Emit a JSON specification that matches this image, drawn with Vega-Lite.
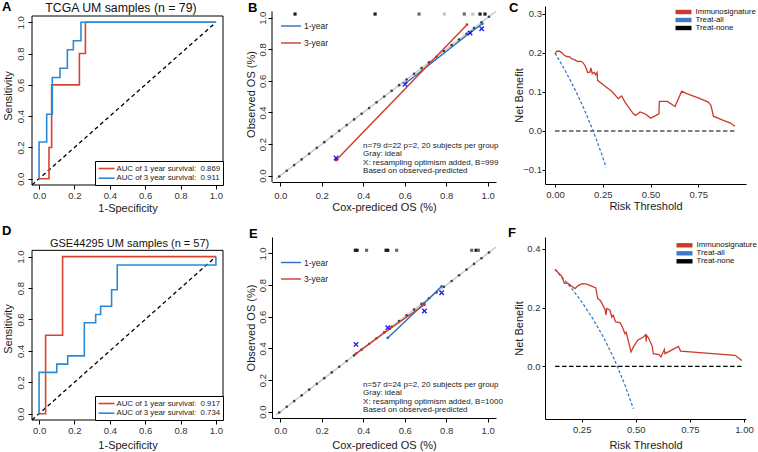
{
  "$schema": "https://vega.github.io/schema/vega-lite/v6.json",
  "padding": {"left": 2, "top": 1, "right": 0, "bottom": 0},
  "autosize": {"type": "pad"},
  "config": {
    "font": "Liberation Sans",
    "view": {"stroke": null},
    "axis": {"grid": false, "domainColor": "#000", "tickColor": "#000", "labelColor": "#333", "titleColor": "#1a1a1a", "labelFontSize": 9.5, "titleFontSize": 11, "titleFontWeight": "normal", "labelFont": "Liberation Sans", "titleFont": "Liberation Sans", "labelOverlap": false, "labelFlush": false, "tickSize": 4, "domainWidth": 1, "tickWidth": 1},
    "title": {"fontSize": 13, "fontWeight": "bold", "anchor": "start", "frame": "group", "color": "#000", "font": "Liberation Sans"},
    "legend": {"labelFont": "Liberation Sans", "titleFont": "Liberation Sans"}
  },
  "datasets": {
    "ideal": [{"x": -0.005, "y": -0.005}, {"x": 0.031, "y": 0.031}, {"x": 0.067, "y": 0.067}, {"x": 0.103, "y": 0.103}, {"x": 0.139, "y": 0.139}, {"x": 0.176, "y": 0.176}, {"x": 0.212, "y": 0.212}, {"x": 0.248, "y": 0.248}, {"x": 0.284, "y": 0.284}, {"x": 0.32, "y": 0.32}, {"x": 0.356, "y": 0.356}, {"x": 0.392, "y": 0.392}, {"x": 0.428, "y": 0.428}, {"x": 0.464, "y": 0.464}, {"x": 0.501, "y": 0.501}, {"x": 0.537, "y": 0.537}, {"x": 0.573, "y": 0.573}, {"x": 0.609, "y": 0.609}, {"x": 0.645, "y": 0.645}, {"x": 0.681, "y": 0.681}, {"x": 0.717, "y": 0.717}, {"x": 0.753, "y": 0.753}, {"x": 0.789, "y": 0.789}, {"x": 0.826, "y": 0.826}, {"x": 0.862, "y": 0.862}, {"x": 0.898, "y": 0.898}, {"x": 0.934, "y": 0.934}, {"x": 0.97, "y": 0.97}, {"x": 1.006, "y": 1.006}]
  },
  "columns": 3,
  "spacing": {"row": 52, "column": 49},
  "bounds": "flush",
  "align": "each",
  "resolve": {"scale": {"x": "independent", "y": "independent", "color": "independent"}, "legend": {"color": "independent"}, "axis": {"x": "independent", "y": "independent"}},
  "concat": [
    {
      "width": 191, "height": 179,
      "title": {"text": "A", "dx": -30, "offset": -12},
      "layer": [
        {
          "data": {"values": [{}]},
          "mark": {"type": "rect", "fillOpacity": 0, "stroke": "#000", "strokeWidth": 1},
          "encoding": {
            "x": {"datum": -0.04, "type": "quantitative", "scale": {"domain": [-0.04, 1.04], "nice": false, "zero": false}, "axis": {"values": [0, 0.2, 0.4, 0.6, 0.8, 1], "format": ".1f", "title": "1-Specificity", "domain": false, "labelPadding": 1.5, "titlePadding": 2}},
            "x2": {"datum": 1.04},
            "y": {"datum": -0.04, "type": "quantitative", "scale": {"domain": [-0.04, 1.104], "nice": false, "zero": false}, "axis": {"values": [0, 0.2, 0.4, 0.6, 0.8, 1], "format": ".1f", "title": "Sensitivity", "domain": false, "labelAngle": 270, "labelPadding": 2.5, "titlePadding": 2.5}},
            "y2": {"datum": 1.04}
          }
        },
        {
          "data": {"values": [{}]},
          "mark": {"type": "rule", "color": "#000", "strokeWidth": 1.3, "strokeDash": [4, 3]},
          "encoding": {
            "x": {"datum": -0.04, "type": "quantitative", "scale": {"domain": [-0.04, 1.04], "nice": false, "zero": false}, "axis": {"values": [0, 0.2, 0.4, 0.6, 0.8, 1], "format": ".1f", "title": "1-Specificity", "domain": false, "labelPadding": 1.5, "titlePadding": 2}},
            "x2": {"datum": 1.0},
            "y": {"datum": -0.04, "type": "quantitative", "scale": {"domain": [-0.04, 1.104], "nice": false, "zero": false}, "axis": {"values": [0, 0.2, 0.4, 0.6, 0.8, 1], "format": ".1f", "title": "Sensitivity", "domain": false, "labelAngle": 270, "labelPadding": 2.5, "titlePadding": 2.5}},
            "y2": {"datum": 1.0}
          }
        },
        {
          "data": {"values": [
            {"curve": "AUC of 1 year survival:\u00a0 0.869", "x": 0, "y": 0},
            {"curve": "AUC of 1 year survival:\u00a0 0.869", "x": 0.056, "y": 0},
            {"curve": "AUC of 1 year survival:\u00a0 0.869", "x": 0.056, "y": 0.2},
            {"curve": "AUC of 1 year survival:\u00a0 0.869", "x": 0.071, "y": 0.2},
            {"curve": "AUC of 1 year survival:\u00a0 0.869", "x": 0.071, "y": 0.6},
            {"curve": "AUC of 1 year survival:\u00a0 0.869", "x": 0.228, "y": 0.6},
            {"curve": "AUC of 1 year survival:\u00a0 0.869", "x": 0.228, "y": 0.8},
            {"curve": "AUC of 1 year survival:\u00a0 0.869", "x": 0.262, "y": 0.8},
            {"curve": "AUC of 1 year survival:\u00a0 0.869", "x": 0.262, "y": 1},
            {"curve": "AUC of 1 year survival:\u00a0 0.869", "x": 1, "y": 1},
            {"curve": "AUC of 3 year survival:\u00a0 0.911", "x": 0, "y": 0},
            {"curve": "AUC of 3 year survival:\u00a0 0.911", "x": 0, "y": 0.235},
            {"curve": "AUC of 3 year survival:\u00a0 0.911", "x": 0.043, "y": 0.235},
            {"curve": "AUC of 3 year survival:\u00a0 0.911", "x": 0.043, "y": 0.412},
            {"curve": "AUC of 3 year survival:\u00a0 0.911", "x": 0.075, "y": 0.412},
            {"curve": "AUC of 3 year survival:\u00a0 0.911", "x": 0.075, "y": 0.647},
            {"curve": "AUC of 3 year survival:\u00a0 0.911", "x": 0.118, "y": 0.647},
            {"curve": "AUC of 3 year survival:\u00a0 0.911", "x": 0.118, "y": 0.706},
            {"curve": "AUC of 3 year survival:\u00a0 0.911", "x": 0.16, "y": 0.706},
            {"curve": "AUC of 3 year survival:\u00a0 0.911", "x": 0.16, "y": 0.824},
            {"curve": "AUC of 3 year survival:\u00a0 0.911", "x": 0.194, "y": 0.824},
            {"curve": "AUC of 3 year survival:\u00a0 0.911", "x": 0.194, "y": 0.882},
            {"curve": "AUC of 3 year survival:\u00a0 0.911", "x": 0.237, "y": 0.882},
            {"curve": "AUC of 3 year survival:\u00a0 0.911", "x": 0.237, "y": 1},
            {"curve": "AUC of 3 year survival:\u00a0 0.911", "x": 1, "y": 1}
          ]},
          "mark": {"type": "line", "strokeWidth": 1.6},
          "encoding": {
            "x": {"field": "x", "type": "quantitative", "scale": {"domain": [-0.04, 1.04], "nice": false, "zero": false}, "axis": {"values": [0, 0.2, 0.4, 0.6, 0.8, 1], "format": ".1f", "title": "1-Specificity", "domain": false, "labelPadding": 1.5, "titlePadding": 2}},
            "y": {"field": "y", "type": "quantitative", "scale": {"domain": [-0.04, 1.104], "nice": false, "zero": false}, "axis": {"values": [0, 0.2, 0.4, 0.6, 0.8, 1], "format": ".1f", "title": "Sensitivity", "domain": false, "labelAngle": 270, "labelPadding": 2.5, "titlePadding": 2.5}},
            "order": {"value": null},
            "color": {"field": "curve", "type": "nominal", "scale": {"domain": ["AUC of 1 year survival:\u00a0 0.869", "AUC of 3 year survival:\u00a0 0.911"], "range": ["#d9432f", "#2b8ad8"]},
              "legend": {"orient": "bottom-right", "offset": 0, "title": null, "strokeColor": "#000", "fillColor": "#fff", "padding": 2.5, "cornerRadius": 0, "labelFontSize": 7.8, "labelColor": "#222", "symbolType": "M-2,0H2", "symbolSize": 64, "symbolOffset": 4, "labelOffset": 5, "rowPadding": 0.7, "symbolStrokeWidth": 1.6}}
          }
        },
        {
          "data": {"values": [{}]},
          "mark": {"type": "text", "fontSize": 12.3, "color": "#111", "baseline": "middle", "align": "center", "text": "TCGA UM samples (n = 79)"},
          "encoding": {
            "x": {"datum": 0.463, "type": "quantitative", "scale": {"domain": [-0.04, 1.04], "nice": false, "zero": false}, "axis": {"values": [0, 0.2, 0.4, 0.6, 0.8, 1], "format": ".1f", "title": "1-Specificity", "domain": false, "labelPadding": 1.5, "titlePadding": 2}},
            "y": {"datum": 1.091, "type": "quantitative", "scale": {"domain": [-0.04, 1.104], "nice": false, "zero": false}, "axis": {"values": [0, 0.2, 0.4, 0.6, 0.8, 1], "format": ".1f", "title": "Sensitivity", "domain": false, "labelAngle": 270, "labelPadding": 2.5, "titlePadding": 2.5}}
          }
        }
      ]
    },
    {
      "width": 224, "height": 176,
      "title": {"text": "B", "dx": -24, "offset": -9},
      "layer": [
        {
          "data": {"values": [{}]},
          "mark": {"type": "rule", "color": "#cccccc", "strokeWidth": 1.5},
          "encoding": {
            "x": {"datum": -0.02, "type": "quantitative", "scale": {"domain": [-0.04, 1.04], "nice": false, "zero": false}, "axis": {"values": [0, 0.2, 0.4, 0.6, 0.8, 1], "format": ".1f", "title": "Cox-prediced OS (%)", "labelPadding": 4, "titlePadding": 2}},
            "x2": {"datum": 1.04},
            "y": {"datum": -0.02, "type": "quantitative", "scale": {"domain": [-0.04, 1.074], "nice": false, "zero": false}, "axis": {"values": [0, 0.2, 0.4, 0.6, 0.8, 1], "format": ".1f", "title": "Observed OS (%)", "labelAngle": 270, "labelPadding": 0.5, "titlePadding": 1, "domain": false}},
            "y2": {"datum": 1.04}
          }
        },
        {
          "data": {"values": [{}]},
          "mark": {"type": "rule", "color": "#000", "strokeWidth": 1},
          "encoding": {
            "x": {"datum": -0.04, "type": "quantitative", "scale": {"domain": [-0.04, 1.04], "nice": false, "zero": false}, "axis": {"values": [0, 0.2, 0.4, 0.6, 0.8, 1], "format": ".1f", "title": "Cox-prediced OS (%)", "labelPadding": 4, "titlePadding": 2}},
            "y": {"datum": -0.04, "type": "quantitative", "scale": {"domain": [-0.04, 1.074], "nice": false, "zero": false}, "axis": {"values": [0, 0.2, 0.4, 0.6, 0.8, 1], "format": ".1f", "title": "Observed OS (%)", "labelAngle": 270, "labelPadding": 0.5, "titlePadding": 1, "domain": false}},
            "y2": {"datum": 1.04}
          }
        },
        {
          "data": {"name": "ideal"},
          "mark": {"type": "point", "filled": true, "size": 7, "color": "#2e4a44", "opacity": 1},
          "encoding": {
            "x": {"field": "x", "type": "quantitative", "scale": {"domain": [-0.04, 1.04], "nice": false, "zero": false}, "axis": {"values": [0, 0.2, 0.4, 0.6, 0.8, 1], "format": ".1f", "title": "Cox-prediced OS (%)", "labelPadding": 4, "titlePadding": 2}},
            "y": {"field": "y", "type": "quantitative", "scale": {"domain": [-0.04, 1.074], "nice": false, "zero": false}, "axis": {"values": [0, 0.2, 0.4, 0.6, 0.8, 1], "format": ".1f", "title": "Observed OS (%)", "labelAngle": 270, "labelPadding": 0.5, "titlePadding": 1, "domain": false}}
          }
        },
        {
          "data": {"values": [
            {"s": "1-year", "x": 0.606, "y": 0.587},
            {"s": "1-year", "x": 0.915, "y": 0.905},
            {"s": "1-year", "x": 0.974, "y": 0.962},
            {"s": "3-year", "x": 0.269, "y": 0.098},
            {"s": "3-year", "x": 0.9, "y": 0.956}
          ]},
          "layer": [
            {
              "mark": {"type": "line", "strokeWidth": 1.4},
              "encoding": {
                "x": {"field": "x", "type": "quantitative", "scale": {"domain": [-0.04, 1.04], "nice": false, "zero": false}, "axis": {"values": [0, 0.2, 0.4, 0.6, 0.8, 1], "format": ".1f", "title": "Cox-prediced OS (%)", "labelPadding": 4, "titlePadding": 2}},
                "y": {"field": "y", "type": "quantitative", "scale": {"domain": [-0.04, 1.074], "nice": false, "zero": false}, "axis": {"values": [0, 0.2, 0.4, 0.6, 0.8, 1], "format": ".1f", "title": "Observed OS (%)", "labelAngle": 270, "labelPadding": 0.5, "titlePadding": 1, "domain": false}},
                "color": {"field": "s", "type": "nominal", "scale": {"domain": ["1-year", "3-year"], "range": ["#2f6dc0", "#cf3a2a"]},
                  "legend": {"orient": "none", "legendX": 8, "legendY": 15, "title": null, "padding": 0, "labelFontSize": 8.5, "labelColor": "#222", "symbolType": "M-2.5,0H2.5", "symbolSize": 64, "symbolOffset": 6, "labelOffset": 8, "rowPadding": 7, "symbolStrokeWidth": 1.4}}
              }
            },
            {
              "mark": {"type": "point", "filled": true, "size": 8, "opacity": 1},
              "encoding": {
                "x": {"field": "x", "type": "quantitative", "scale": {"domain": [-0.04, 1.04], "nice": false, "zero": false}, "axis": {"values": [0, 0.2, 0.4, 0.6, 0.8, 1], "format": ".1f", "title": "Cox-prediced OS (%)", "labelPadding": 4, "titlePadding": 2}},
                "y": {"field": "y", "type": "quantitative", "scale": {"domain": [-0.04, 1.074], "nice": false, "zero": false}, "axis": {"values": [0, 0.2, 0.4, 0.6, 0.8, 1], "format": ".1f", "title": "Observed OS (%)", "labelAngle": 270, "labelPadding": 0.5, "titlePadding": 1, "domain": false}},
                "color": {"field": "s", "type": "nominal", "legend": null}
              }
            }
          ]
        },
        {
          "data": {"values": [
            {"x": 0.601, "y": 0.578},
            {"x": 0.915, "y": 0.903},
            {"x": 0.971, "y": 0.93},
            {"x": 0.269, "y": 0.112}
          ]},
          "mark": {"type": "point", "shape": "M-1,-1L1,1M1,-1L-1,1", "filled": false, "size": 20, "color": "#1a1aee", "strokeWidth": 1.3, "opacity": 1},
          "encoding": {
            "x": {"field": "x", "type": "quantitative", "scale": {"domain": [-0.04, 1.04], "nice": false, "zero": false}, "axis": {"values": [0, 0.2, 0.4, 0.6, 0.8, 1], "format": ".1f", "title": "Cox-prediced OS (%)", "labelPadding": 4, "titlePadding": 2}},
            "y": {"field": "y", "type": "quantitative", "scale": {"domain": [-0.04, 1.074], "nice": false, "zero": false}, "axis": {"values": [0, 0.2, 0.4, 0.6, 0.8, 1], "format": ".1f", "title": "Observed OS (%)", "labelAngle": 270, "labelPadding": 0.5, "titlePadding": 1, "domain": false}}
          }
        },
        {
          "data": {"values": [
            {"x": 0.071, "n": 3}, {"x": 0.457, "n": 3}, {"x": 0.669, "n": 2}, {"x": 0.791, "n": 1},
            {"x": 0.887, "n": 2}, {"x": 0.928, "n": 1}, {"x": 0.963, "n": 3}, {"x": 0.987, "n": 3}
          ]},
          "mark": {"type": "square", "size": 10, "opacity": 1},
          "encoding": {
            "x": {"field": "x", "type": "quantitative", "scale": {"domain": [-0.04, 1.04], "nice": false, "zero": false}, "axis": {"values": [0, 0.2, 0.4, 0.6, 0.8, 1], "format": ".1f", "title": "Cox-prediced OS (%)", "labelPadding": 4, "titlePadding": 2}},
            "y": {"datum": 1.023, "type": "quantitative", "scale": {"domain": [-0.04, 1.074], "nice": false, "zero": false}, "axis": {"values": [0, 0.2, 0.4, 0.6, 0.8, 1], "format": ".1f", "title": "Observed OS (%)", "labelAngle": 270, "labelPadding": 0.5, "titlePadding": 1, "domain": false}},
            "color": {"field": "n", "type": "quantitative", "scale": {"domain": [1, 3], "range": ["#c4c4c4", "#1a1a1a"]}, "legend": null}
          }
        },
        {
          "data": {"values": [{}]},
          "mark": {"type": "text", "align": "left", "baseline": "top", "fontSize": 8, "lineHeight": 8.5, "color": "#222", "text": ["n=79 d=22 p=2, 20 subjects per group", "Gray: ideal", "X: resampling optimism added, B=999", "Based on observed-predicted"]},
          "encoding": {
            "x": {"datum": 0.399, "type": "quantitative", "scale": {"domain": [-0.04, 1.04], "nice": false, "zero": false}, "axis": {"values": [0, 0.2, 0.4, 0.6, 0.8, 1], "format": ".1f", "title": "Cox-prediced OS (%)", "labelPadding": 4, "titlePadding": 2}},
            "y": {"datum": 0.216, "type": "quantitative", "scale": {"domain": [-0.04, 1.074], "nice": false, "zero": false}, "axis": {"values": [0, 0.2, 0.4, 0.6, 0.8, 1], "format": ".1f", "title": "Observed OS (%)", "labelAngle": 270, "labelPadding": 0.5, "titlePadding": 1, "domain": false}}
          }
        }
      ]
    },
    {
      "width": 201, "height": 178,
      "title": {"text": "C", "dx": -36, "offset": -9},
      "layer": [
        {
          "data": {"values": [{"x": 0, "y": 0}, {"x": 0.942, "y": 0}]},
          "mark": {"type": "line", "color": "#000", "strokeWidth": 1.2, "strokeDash": [4.5, 2.5]},
          "encoding": {
            "x": {"field": "x", "type": "quantitative", "scale": {"domain": [-0.0523, 0.9995], "nice": false, "zero": false}, "axis": {"values": [0, 0.25, 0.5, 0.75], "format": ".2f", "title": "Risk Threshold", "tickSize": 3, "labelPadding": 2, "titlePadding": 2}},
            "y": {"field": "y", "type": "quantitative", "scale": {"domain": [-0.1359, 0.3205], "nice": false, "zero": false}, "axis": {"values": [-0.1, 0, 0.1, 0.2, 0.3], "format": ".1f", "title": "Net Benefit", "tickSize": 3, "labelPadding": 0.5, "titlePadding": -1.5}}
          }
        },
        {
          "data": {"values": [{"x": 0, "y": 0.2}, {"x": 0.05, "y": 0.158}, {"x": 0.1, "y": 0.111}, {"x": 0.15, "y": 0.059}, {"x": 0.2, "y": 0.0}, {"x": 0.25, "y": -0.067}, {"x": 0.267, "y": -0.093}]},
          "mark": {"type": "line", "color": "#3a7cc8", "strokeWidth": 1.3, "strokeDash": [3, 2]},
          "encoding": {
            "x": {"field": "x", "type": "quantitative", "scale": {"domain": [-0.0523, 0.9995], "nice": false, "zero": false}, "axis": {"values": [0, 0.25, 0.5, 0.75], "format": ".2f", "title": "Risk Threshold", "tickSize": 3, "labelPadding": 2, "titlePadding": 2}},
            "y": {"field": "y", "type": "quantitative", "scale": {"domain": [-0.1359, 0.3205], "nice": false, "zero": false}, "axis": {"values": [-0.1, 0, 0.1, 0.2, 0.3], "format": ".1f", "title": "Net Benefit", "tickSize": 3, "labelPadding": 0.5, "titlePadding": -1.5}}
          }
        },
        {
          "data": {"values": [
            {"x": 0, "y": 0.198}, {"x": 0.009, "y": 0.204}, {"x": 0.021, "y": 0.205}, {"x": 0.035, "y": 0.201}, {"x": 0.049, "y": 0.194}, {"x": 0.061, "y": 0.191}, {"x": 0.078, "y": 0.19}, {"x": 0.087, "y": 0.185}, {"x": 0.096, "y": 0.184}, {"x": 0.108, "y": 0.181}, {"x": 0.119, "y": 0.178}, {"x": 0.131, "y": 0.179}, {"x": 0.143, "y": 0.177}, {"x": 0.157, "y": 0.168}, {"x": 0.171, "y": 0.15}, {"x": 0.183, "y": 0.151}, {"x": 0.188, "y": 0.162}, {"x": 0.195, "y": 0.147}, {"x": 0.206, "y": 0.15}, {"x": 0.213, "y": 0.144}, {"x": 0.22, "y": 0.15}, {"x": 0.223, "y": 0.13}, {"x": 0.262, "y": 0.115}, {"x": 0.297, "y": 0.102}, {"x": 0.331, "y": 0.083}, {"x": 0.349, "y": 0.09}, {"x": 0.366, "y": 0.074}, {"x": 0.41, "y": 0.044}, {"x": 0.422, "y": 0.04}, {"x": 0.445, "y": 0.049}, {"x": 0.471, "y": 0.044}, {"x": 0.501, "y": 0.033}, {"x": 0.544, "y": 0.044}, {"x": 0.546, "y": 0.076}, {"x": 0.588, "y": 0.076}, {"x": 0.628, "y": 0.063}, {"x": 0.663, "y": 0.102}, {"x": 0.689, "y": 0.096}, {"x": 0.75, "y": 0.085}, {"x": 0.802, "y": 0.074}, {"x": 0.816, "y": 0.066}, {"x": 0.829, "y": 0.038}, {"x": 0.881, "y": 0.027}, {"x": 0.916, "y": 0.021}, {"x": 0.942, "y": 0.012}
          ]},
          "mark": {"type": "line", "color": "#cc3b2a", "strokeWidth": 1.3},
          "encoding": {
            "x": {"field": "x", "type": "quantitative", "scale": {"domain": [-0.0523, 0.9995], "nice": false, "zero": false}, "axis": {"values": [0, 0.25, 0.5, 0.75], "format": ".2f", "title": "Risk Threshold", "tickSize": 3, "labelPadding": 2, "titlePadding": 2}},
            "y": {"field": "y", "type": "quantitative", "scale": {"domain": [-0.1359, 0.3205], "nice": false, "zero": false}, "axis": {"values": [-0.1, 0, 0.1, 0.2, 0.3], "format": ".1f", "title": "Net Benefit", "tickSize": 3, "labelPadding": 0.5, "titlePadding": -1.5}}
          }
        },
        {
          "data": {"values": []},
          "mark": {"type": "point", "filled": true, "opacity": 1},
          "encoding": {
            "color": {"field": "model", "type": "nominal", "scale": {"domain": ["Immunosignature", "Treat-all", "Treat-none"], "range": ["#cc3b2a", "#3a7cc8", "#000000"]},
              "legend": {"orient": "none", "legendX": 130.5, "legendY": 2, "title": null, "padding": 0, "labelFontSize": 7.8, "labelColor": "#111", "symbolType": "M-2,-0.55H2V0.55H-2Z", "symbolSize": 64, "symbolOffset": 4, "labelOffset": 8, "rowPadding": -0.5, "symbolStrokeWidth": 0}}
          }
        }
      ]
    },
    {
      "width": 191, "height": 183,
      "title": {"text": "D", "dx": -30, "offset": -1},
      "layer": [
        {
          "data": {"values": [{}]},
          "mark": {"type": "rect", "fillOpacity": 0, "stroke": "#000", "strokeWidth": 1},
          "encoding": {
            "x": {"datum": -0.04, "type": "quantitative", "scale": {"domain": [-0.04, 1.04], "nice": false, "zero": false}, "axis": {"values": [0, 0.2, 0.4, 0.6, 0.8, 1], "format": ".1f", "title": "1-Specificity", "domain": false, "labelPadding": 1.5, "titlePadding": 4}},
            "x2": {"datum": 1.04},
            "y": {"datum": -0.04, "type": "quantitative", "scale": {"domain": [-0.04, 1.125], "nice": false, "zero": false}, "axis": {"values": [0, 0.2, 0.4, 0.6, 0.8, 1], "format": ".1f", "title": "Sensitivity", "domain": false, "labelAngle": 270, "labelPadding": 2.5, "titlePadding": 2.5}},
            "y2": {"datum": 1.04}
          }
        },
        {
          "data": {"values": [{}]},
          "mark": {"type": "rule", "color": "#000", "strokeWidth": 1.3, "strokeDash": [4, 3]},
          "encoding": {
            "x": {"datum": -0.04, "type": "quantitative", "scale": {"domain": [-0.04, 1.04], "nice": false, "zero": false}, "axis": {"values": [0, 0.2, 0.4, 0.6, 0.8, 1], "format": ".1f", "title": "1-Specificity", "domain": false, "labelPadding": 1.5, "titlePadding": 4}},
            "x2": {"datum": 1.0},
            "y": {"datum": -0.04, "type": "quantitative", "scale": {"domain": [-0.04, 1.125], "nice": false, "zero": false}, "axis": {"values": [0, 0.2, 0.4, 0.6, 0.8, 1], "format": ".1f", "title": "Sensitivity", "domain": false, "labelAngle": 270, "labelPadding": 2.5, "titlePadding": 2.5}},
            "y2": {"datum": 1.0}
          }
        },
        {
          "data": {"values": [
            {"curve": "AUC of 1 year survival:\u00a0 0.917", "x": 0, "y": 0},
            {"curve": "AUC of 1 year survival:\u00a0 0.917", "x": 0.037, "y": 0},
            {"curve": "AUC of 1 year survival:\u00a0 0.917", "x": 0.037, "y": 0.5},
            {"curve": "AUC of 1 year survival:\u00a0 0.917", "x": 0.133, "y": 0.5},
            {"curve": "AUC of 1 year survival:\u00a0 0.917", "x": 0.133, "y": 1},
            {"curve": "AUC of 1 year survival:\u00a0 0.917", "x": 1, "y": 1},
            {"curve": "AUC of 3 year survival:\u00a0 0.734", "x": 0, "y": 0},
            {"curve": "AUC of 3 year survival:\u00a0 0.734", "x": 0, "y": 0.263},
            {"curve": "AUC of 3 year survival:\u00a0 0.734", "x": 0.1, "y": 0.263},
            {"curve": "AUC of 3 year survival:\u00a0 0.734", "x": 0.1, "y": 0.316},
            {"curve": "AUC of 3 year survival:\u00a0 0.734", "x": 0.162, "y": 0.316},
            {"curve": "AUC of 3 year survival:\u00a0 0.734", "x": 0.162, "y": 0.368},
            {"curve": "AUC of 3 year survival:\u00a0 0.734", "x": 0.256, "y": 0.368},
            {"curve": "AUC of 3 year survival:\u00a0 0.734", "x": 0.256, "y": 0.579},
            {"curve": "AUC of 3 year survival:\u00a0 0.734", "x": 0.32, "y": 0.579},
            {"curve": "AUC of 3 year survival:\u00a0 0.734", "x": 0.32, "y": 0.632},
            {"curve": "AUC of 3 year survival:\u00a0 0.734", "x": 0.348, "y": 0.632},
            {"curve": "AUC of 3 year survival:\u00a0 0.734", "x": 0.348, "y": 0.684},
            {"curve": "AUC of 3 year survival:\u00a0 0.734", "x": 0.41, "y": 0.684},
            {"curve": "AUC of 3 year survival:\u00a0 0.734", "x": 0.41, "y": 0.789},
            {"curve": "AUC of 3 year survival:\u00a0 0.734", "x": 0.442, "y": 0.789},
            {"curve": "AUC of 3 year survival:\u00a0 0.734", "x": 0.442, "y": 0.947},
            {"curve": "AUC of 3 year survival:\u00a0 0.734", "x": 1, "y": 0.947},
            {"curve": "AUC of 3 year survival:\u00a0 0.734", "x": 1, "y": 1}
          ]},
          "mark": {"type": "line", "strokeWidth": 1.6},
          "encoding": {
            "x": {"field": "x", "type": "quantitative", "scale": {"domain": [-0.04, 1.04], "nice": false, "zero": false}, "axis": {"values": [0, 0.2, 0.4, 0.6, 0.8, 1], "format": ".1f", "title": "1-Specificity", "domain": false, "labelPadding": 1.5, "titlePadding": 4}},
            "y": {"field": "y", "type": "quantitative", "scale": {"domain": [-0.04, 1.125], "nice": false, "zero": false}, "axis": {"values": [0, 0.2, 0.4, 0.6, 0.8, 1], "format": ".1f", "title": "Sensitivity", "domain": false, "labelAngle": 270, "labelPadding": 2.5, "titlePadding": 2.5}},
            "order": {"value": null},
            "color": {"field": "curve", "type": "nominal", "scale": {"domain": ["AUC of 3 year survival:\u00a0 0.734", "AUC of 1 year survival:\u00a0 0.917"], "range": ["#2b8ad8", "#d9432f"]},
              "legend": {"orient": "bottom-right", "offset": 0, "title": null, "strokeColor": "#000", "fillColor": "#fff", "padding": 2.5, "cornerRadius": 0, "labelFontSize": 7.8, "labelColor": "#222", "symbolType": "M-2,0H2", "symbolSize": 64, "symbolOffset": 4, "labelOffset": 5, "rowPadding": 0.7, "symbolStrokeWidth": 1.6, "values": ["AUC of 1 year survival:\u00a0 0.917", "AUC of 3 year survival:\u00a0 0.734"]}}
          }
        },
        {
          "data": {"values": [{}]},
          "mark": {"type": "text", "fontSize": 11, "color": "#111", "baseline": "middle", "align": "center", "text": "GSE44295 UM samples (n = 57)"},
          "encoding": {
            "x": {"datum": 0.512, "type": "quantitative", "scale": {"domain": [-0.04, 1.04], "nice": false, "zero": false}, "axis": {"values": [0, 0.2, 0.4, 0.6, 0.8, 1], "format": ".1f", "title": "1-Specificity", "domain": false, "labelPadding": 1.5, "titlePadding": 4}},
            "y": {"datum": 1.082, "type": "quantitative", "scale": {"domain": [-0.04, 1.125], "nice": false, "zero": false}, "axis": {"values": [0, 0.2, 0.4, 0.6, 0.8, 1], "format": ".1f", "title": "Sensitivity", "domain": false, "labelAngle": 270, "labelPadding": 2.5, "titlePadding": 2.5}}
          }
        }
      ]
    },
    {
      "width": 224, "height": 181,
      "title": {"text": "E", "dx": -23, "offset": -4},
      "layer": [
        {
          "data": {"values": [{}]},
          "mark": {"type": "rule", "color": "#cccccc", "strokeWidth": 1.5},
          "encoding": {
            "x": {"datum": -0.02, "type": "quantitative", "scale": {"domain": [-0.04, 1.04], "nice": false, "zero": false}, "axis": {"values": [0, 0.2, 0.4, 0.6, 0.8, 1], "format": ".1f", "title": "Cox-prediced OS (%)", "labelPadding": 3.5, "titlePadding": 4}},
            "x2": {"datum": 1.04},
            "y": {"datum": -0.02, "type": "quantitative", "scale": {"domain": [-0.04, 1.104], "nice": false, "zero": false}, "axis": {"values": [0, 0.2, 0.4, 0.6, 0.8, 1], "format": ".1f", "title": "Observed OS (%)", "labelAngle": 270, "labelPadding": 0.5, "titlePadding": 1}},
            "y2": {"datum": 1.04}
          }
        },
        {
          "data": {"name": "ideal"},
          "mark": {"type": "point", "filled": true, "size": 7, "color": "#2e4a44", "opacity": 1},
          "encoding": {
            "x": {"field": "x", "type": "quantitative", "scale": {"domain": [-0.04, 1.04], "nice": false, "zero": false}, "axis": {"values": [0, 0.2, 0.4, 0.6, 0.8, 1], "format": ".1f", "title": "Cox-prediced OS (%)", "labelPadding": 3.5, "titlePadding": 4}},
            "y": {"field": "y", "type": "quantitative", "scale": {"domain": [-0.04, 1.104], "nice": false, "zero": false}, "axis": {"values": [0, 0.2, 0.4, 0.6, 0.8, 1], "format": ".1f", "title": "Observed OS (%)", "labelAngle": 270, "labelPadding": 0.5, "titlePadding": 1}}
          }
        },
        {
          "data": {"values": [
            {"s": "1-year", "x": 0.518, "y": 0.466},
            {"s": "1-year", "x": 0.693, "y": 0.683},
            {"s": "1-year", "x": 0.778, "y": 0.792},
            {"s": "3-year", "x": 0.365, "y": 0.367},
            {"s": "3-year", "x": 0.529, "y": 0.525},
            {"s": "3-year", "x": 0.695, "y": 0.676}
          ]},
          "layer": [
            {
              "mark": {"type": "line", "strokeWidth": 1.4},
              "encoding": {
                "x": {"field": "x", "type": "quantitative", "scale": {"domain": [-0.04, 1.04], "nice": false, "zero": false}, "axis": {"values": [0, 0.2, 0.4, 0.6, 0.8, 1], "format": ".1f", "title": "Cox-prediced OS (%)", "labelPadding": 3.5, "titlePadding": 4}},
                "y": {"field": "y", "type": "quantitative", "scale": {"domain": [-0.04, 1.104], "nice": false, "zero": false}, "axis": {"values": [0, 0.2, 0.4, 0.6, 0.8, 1], "format": ".1f", "title": "Observed OS (%)", "labelAngle": 270, "labelPadding": 0.5, "titlePadding": 1}},
                "color": {"field": "s", "type": "nominal", "scale": {"domain": ["1-year", "3-year"], "range": ["#2f6dc0", "#cf3a2a"]},
                  "legend": {"orient": "none", "legendX": 8, "legendY": 20.5, "title": null, "padding": 0, "labelFontSize": 8.5, "labelColor": "#222", "symbolType": "M-2.5,0H2.5", "symbolSize": 64, "symbolOffset": 6, "labelOffset": 8, "rowPadding": 6.5, "symbolStrokeWidth": 1.4}}
              }
            },
            {
              "mark": {"type": "point", "filled": true, "size": 8, "opacity": 1},
              "encoding": {
                "x": {"field": "x", "type": "quantitative", "scale": {"domain": [-0.04, 1.04], "nice": false, "zero": false}, "axis": {"values": [0, 0.2, 0.4, 0.6, 0.8, 1], "format": ".1f", "title": "Cox-prediced OS (%)", "labelPadding": 3.5, "titlePadding": 4}},
                "y": {"field": "y", "type": "quantitative", "scale": {"domain": [-0.04, 1.104], "nice": false, "zero": false}, "axis": {"values": [0, 0.2, 0.4, 0.6, 0.8, 1], "format": ".1f", "title": "Observed OS (%)", "labelAngle": 270, "labelPadding": 0.5, "titlePadding": 1}},
                "color": {"field": "s", "type": "nominal", "legend": null}
              }
            }
          ]
        },
        {
          "data": {"values": [
            {"x": 0.365, "y": 0.425},
            {"x": 0.518, "y": 0.531},
            {"x": 0.695, "y": 0.636},
            {"x": 0.778, "y": 0.752}
          ]},
          "mark": {"type": "point", "shape": "M-1,-1L1,1M1,-1L-1,1", "filled": false, "size": 20, "color": "#1a1aee", "strokeWidth": 1.3, "opacity": 1},
          "encoding": {
            "x": {"field": "x", "type": "quantitative", "scale": {"domain": [-0.04, 1.04], "nice": false, "zero": false}, "axis": {"values": [0, 0.2, 0.4, 0.6, 0.8, 1], "format": ".1f", "title": "Cox-prediced OS (%)", "labelPadding": 3.5, "titlePadding": 4}},
            "y": {"field": "y", "type": "quantitative", "scale": {"domain": [-0.04, 1.104], "nice": false, "zero": false}, "axis": {"values": [0, 0.2, 0.4, 0.6, 0.8, 1], "format": ".1f", "title": "Observed OS (%)", "labelAngle": 270, "labelPadding": 0.5, "titlePadding": 1}}
          }
        },
        {
          "data": {"values": [
            {"x": 0.362, "n": 3}, {"x": 0.37, "n": 3}, {"x": 0.416, "n": 2}, {"x": 0.51, "n": 3}, {"x": 0.518, "n": 3},
            {"x": 0.561, "n": 2}, {"x": 0.923, "n": 2}, {"x": 0.944, "n": 3}, {"x": 0.955, "n": 2}
          ]},
          "mark": {"type": "square", "size": 10, "opacity": 1},
          "encoding": {
            "x": {"field": "x", "type": "quantitative", "scale": {"domain": [-0.04, 1.04], "nice": false, "zero": false}, "axis": {"values": [0, 0.2, 0.4, 0.6, 0.8, 1], "format": ".1f", "title": "Cox-prediced OS (%)", "labelPadding": 3.5, "titlePadding": 4}},
            "y": {"datum": 1.02, "type": "quantitative", "scale": {"domain": [-0.04, 1.104], "nice": false, "zero": false}, "axis": {"values": [0, 0.2, 0.4, 0.6, 0.8, 1], "format": ".1f", "title": "Observed OS (%)", "labelAngle": 270, "labelPadding": 0.5, "titlePadding": 1}},
            "color": {"field": "n", "type": "quantitative", "scale": {"domain": [1, 3], "range": ["#c4c4c4", "#1a1a1a"]}, "legend": null}
          }
        },
        {
          "data": {"values": [{}]},
          "mark": {"type": "text", "align": "left", "baseline": "top", "fontSize": 8, "lineHeight": 8.5, "color": "#222", "text": ["n=57 d=24 p=2, 20 subjects per group", "Gray: ideal", "X: resampling optimism added, B=1000", "Based on observed-predicted"]},
          "encoding": {
            "x": {"datum": 0.399, "type": "quantitative", "scale": {"domain": [-0.04, 1.04], "nice": false, "zero": false}, "axis": {"values": [0, 0.2, 0.4, 0.6, 0.8, 1], "format": ".1f", "title": "Cox-prediced OS (%)", "labelPadding": 3.5, "titlePadding": 4}},
            "y": {"datum": 0.196, "type": "quantitative", "scale": {"domain": [-0.04, 1.104], "nice": false, "zero": false}, "axis": {"values": [0, 0.2, 0.4, 0.6, 0.8, 1], "format": ".1f", "title": "Observed OS (%)", "labelAngle": 270, "labelPadding": 0.5, "titlePadding": 1}}
          }
        }
      ]
    },
    {
      "width": 201, "height": 182,
      "title": {"text": "F", "dx": -37, "offset": -3},
      "layer": [
        {
          "data": {"values": [{"x": 0.127, "y": 0}, {"x": 0.99, "y": 0}]},
          "mark": {"type": "line", "color": "#000", "strokeWidth": 1.2, "strokeDash": [4.5, 2.5]},
          "encoding": {
            "x": {"field": "x", "type": "quantitative", "scale": {"domain": [0.0804, 1.0093], "nice": false, "zero": false}, "axis": {"values": [0.25, 0.5, 0.75, 1], "format": ".2f", "title": "Risk Threshold", "tickSize": 3, "labelPadding": 2, "titlePadding": 6}},
            "y": {"field": "y", "type": "quantitative", "scale": {"domain": [-0.1797, 0.4408], "nice": false, "zero": false}, "axis": {"values": [0, 0.2, 0.4], "format": ".1f", "title": "Net Benefit", "tickSize": 3, "labelPadding": 2, "titlePadding": 2.3}}
          }
        },
        {
          "data": {"values": [{"x": 0.127, "y": 0.33}, {"x": 0.2, "y": 0.269}, {"x": 0.25, "y": 0.22}, {"x": 0.3, "y": 0.164}, {"x": 0.35, "y": 0.1}, {"x": 0.4, "y": 0.025}, {"x": 0.45, "y": -0.064}, {"x": 0.489, "y": -0.145}]},
          "mark": {"type": "line", "color": "#3a7cc8", "strokeWidth": 1.3, "strokeDash": [3, 2]},
          "encoding": {
            "x": {"field": "x", "type": "quantitative", "scale": {"domain": [0.0804, 1.0093], "nice": false, "zero": false}, "axis": {"values": [0.25, 0.5, 0.75, 1], "format": ".2f", "title": "Risk Threshold", "tickSize": 3, "labelPadding": 2, "titlePadding": 6}},
            "y": {"field": "y", "type": "quantitative", "scale": {"domain": [-0.1797, 0.4408], "nice": false, "zero": false}, "axis": {"values": [0, 0.2, 0.4], "format": ".1f", "title": "Net Benefit", "tickSize": 3, "labelPadding": 2, "titlePadding": 2.3}}
          }
        },
        {
          "data": {"values": [
            {"x": 0.127, "y": 0.33}, {"x": 0.142, "y": 0.319}, {"x": 0.158, "y": 0.307}, {"x": 0.17, "y": 0.282}, {"x": 0.181, "y": 0.284}, {"x": 0.192, "y": 0.28}, {"x": 0.204, "y": 0.273}, {"x": 0.219, "y": 0.265}, {"x": 0.235, "y": 0.276}, {"x": 0.253, "y": 0.282}, {"x": 0.273, "y": 0.28}, {"x": 0.296, "y": 0.273}, {"x": 0.315, "y": 0.267}, {"x": 0.324, "y": 0.231}, {"x": 0.335, "y": 0.225}, {"x": 0.346, "y": 0.211}, {"x": 0.358, "y": 0.193}, {"x": 0.362, "y": 0.175}, {"x": 0.366, "y": 0.197}, {"x": 0.381, "y": 0.191}, {"x": 0.389, "y": 0.168}, {"x": 0.396, "y": 0.174}, {"x": 0.407, "y": 0.151}, {"x": 0.427, "y": 0.149}, {"x": 0.438, "y": 0.134}, {"x": 0.45, "y": 0.111}, {"x": 0.456, "y": 0.116}, {"x": 0.463, "y": 0.094}, {"x": 0.478, "y": 0.049}, {"x": 0.489, "y": 0.066}, {"x": 0.509, "y": 0.089}, {"x": 0.535, "y": 0.1}, {"x": 0.546, "y": 0.108}, {"x": 0.548, "y": 0.085}, {"x": 0.55, "y": 0.105}, {"x": 0.558, "y": 0.098}, {"x": 0.576, "y": 0.068}, {"x": 0.581, "y": 0.043}, {"x": 0.607, "y": 0.04}, {"x": 0.616, "y": 0.032}, {"x": 0.627, "y": 0.049}, {"x": 0.632, "y": 0.057}, {"x": 0.635, "y": 0.043}, {"x": 0.697, "y": 0.068}, {"x": 0.707, "y": 0.052}, {"x": 0.959, "y": 0.0375}, {"x": 0.99, "y": 0.02}
          ]},
          "mark": {"type": "line", "color": "#cc3b2a", "strokeWidth": 1.3},
          "encoding": {
            "x": {"field": "x", "type": "quantitative", "scale": {"domain": [0.0804, 1.0093], "nice": false, "zero": false}, "axis": {"values": [0.25, 0.5, 0.75, 1], "format": ".2f", "title": "Risk Threshold", "tickSize": 3, "labelPadding": 2, "titlePadding": 6}},
            "y": {"field": "y", "type": "quantitative", "scale": {"domain": [-0.1797, 0.4408], "nice": false, "zero": false}, "axis": {"values": [0, 0.2, 0.4], "format": ".1f", "title": "Net Benefit", "tickSize": 3, "labelPadding": 2, "titlePadding": 2.3}}
          }
        },
        {
          "data": {"values": []},
          "mark": {"type": "point", "filled": true, "opacity": 1},
          "encoding": {
            "color": {"field": "model", "type": "nominal", "scale": {"domain": ["Immunosignature", "Treat-all", "Treat-none"], "range": ["#cc3b2a", "#3a7cc8", "#000000"]},
              "legend": {"orient": "none", "legendX": 131.5, "legendY": 4.3, "title": null, "padding": 0, "labelFontSize": 7.8, "labelColor": "#111", "symbolType": "M-2,-0.55H2V0.55H-2Z", "symbolSize": 64, "symbolOffset": 4, "labelOffset": 8, "rowPadding": 0, "symbolStrokeWidth": 0}}
          }
        }
      ]
    }
  ]
}
